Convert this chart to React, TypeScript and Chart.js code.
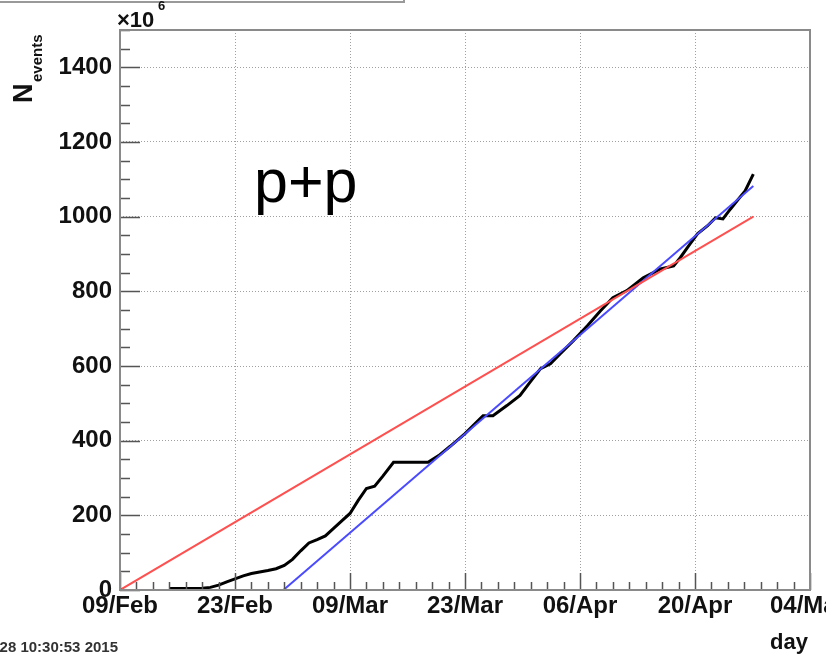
import React, { useEffect, useRef } from "react";
import { Chart, registerables } from "chart.js";

Chart.register(...registerables);

// x axis: days counted from 09/Feb, labelled every two weeks
const DAY_TICKS = [0, 14, 28, 42, 56, 70, 84];
const DAY_LABELS = ["09/Feb", "23/Feb", "09/Mar", "23/Mar", "06/Apr", "20/Apr", "04/May"];
const Y_TICKS = [0, 200, 400, 600, 800, 1000, 1200, 1400];

// accumulated events (in units of 10^6) against run day
const RUN_DAYS = [
  6, 8, 10, 11, 12, 13, 14, 15, 16, 17,
  18, 19, 20, 21, 22, 23, 24, 25, 26, 27,
  28, 29, 30, 31, 32, 33.3, 37.5, 38.8, 40.2, 42,
  44.2, 45.4, 47.1, 48.7, 49.9, 51.2, 52.4, 53.6, 55.2, 56.9,
  58.5, 60, 61.7, 63.7, 65.8, 67.4, 68.2, 69.4, 70.3, 71.5,
  72.5, 73.4, 74.3, 75.1, 76.1, 77.1,
];
const RUN_EVENTS = [
  4, 4, 5, 7, 13, 22, 30, 38, 44, 48,
  52, 57, 66, 82, 105, 126, 135, 145, 165, 185,
  205, 240, 272, 278, 305, 342, 342, 360, 385, 419,
  467, 467, 494, 521, 556, 593, 606, 633, 668, 708,
  748, 783, 802, 836, 860, 868, 890, 927, 954, 975,
  997, 994, 1020, 1042, 1069, 1114,
];

// projected goal (red) and current pace (blue)
const GOAL_DAYS = [0, 77.1];
const GOAL_EVENTS = [0, 1000];
const PACE_DAYS = [19.9, 77.1];
const PACE_EVENTS = [0, 1082];

const FONT = '"Liberation Sans", Arial, Helvetica, sans-serif';

const toPoints = (xs: number[], ys: number[]) => xs.map((x, i) => ({ x, y: ys[i] }));

const rootStyle = {
  id: "rootStyle",
  afterDatasetsDraw(chart: any) {
    const { ctx, chartArea: a, scales } = chart;
    const x = scales.x;
    const y = scales.y;
    ctx.save();
    ctx.strokeStyle = "#555";
    ctx.lineWidth = 1.5;
    ctx.beginPath();
    // y tick marks: major every 200, minor every 50
    for (let v = 0; v <= 1500; v += 50) {
      const py = Math.round(y.getPixelForValue(v)) + 0.5;
      const len = v % 200 === 0 ? 20 : 10;
      ctx.moveTo(a.left, py);
      ctx.lineTo(a.left + len, py);
    }
    // x tick marks: major every 14 days, minor every 2 days
    for (let d = 0; d <= 84; d += 2) {
      const px = Math.round(x.getPixelForValue(d)) + 0.5;
      const len = d % 14 === 0 ? 17 : 8;
      ctx.moveTo(px, a.bottom);
      ctx.lineTo(px, a.bottom - len);
    }
    ctx.stroke();
    // frame
    ctx.strokeStyle = "#8a8a8a";
    ctx.lineWidth = 2;
    ctx.strokeRect(a.left, a.top, a.right - a.left, a.bottom - a.top);
    ctx.restore();
  },
  afterDraw(chart: any) {
    const { ctx } = chart;
    ctx.save();
    ctx.fillStyle = "#111";

    // clipped title box at the top
    ctx.strokeStyle = "#999";
    ctx.lineWidth = 2;
    ctx.strokeRect(-10, -20, 414, 22);

    // axis multiplier
    ctx.textAlign = "left";
    ctx.textBaseline = "alphabetic";
    ctx.font = `bold 22px ${FONT}`;
    ctx.fillText("\u00d710", 117, 27);
    ctx.font = `bold 13px ${FONT}`;
    ctx.fillText("6", 158, 10);

    // y title N_events
    ctx.save();
    ctx.translate(32, 103);
    ctx.rotate(-Math.PI / 2);
    ctx.font = `bold 27px ${FONT}`;
    ctx.fillText("N", 0, 0);
    ctx.font = `bold 15px ${FONT}`;
    ctx.fillText("events", 21, 10);
    ctx.restore();

    // x title
    ctx.textAlign = "right";
    ctx.font = `bold 22px ${FONT}`;
    ctx.fillText("day", 808, 649);

    // time stamp
    ctx.fillStyle = "#333";
    ctx.font = `bold 15px ${FONT}`;
    ctx.fillText("28 10:30:53 2015", 118, 652);

    // collision system
    ctx.fillStyle = "#000";
    ctx.textAlign = "left";
    ctx.font = `61px ${FONT}`;
    ctx.fillText("p+p", 254, 202);
    ctx.restore();
  },
};

export default function App() {
  const ref = useRef<HTMLCanvasElement>(null);

  useEffect(() => {
    const canvas = ref.current!;
    const tickFont = { family: FONT, weight: "bold" as const, size: 24, lineHeight: 1 };
    const chart = new Chart(canvas, {
      type: "scatter",
      data: {
        datasets: [
          {
            data: toPoints(GOAL_DAYS, GOAL_EVENTS),
            showLine: true,
            borderColor: "#ff5050",
            borderWidth: 2,
            pointRadius: 0,
          },
          {
            data: toPoints(PACE_DAYS, PACE_EVENTS),
            showLine: true,
            borderColor: "#4a4aff",
            borderWidth: 2,
            pointRadius: 0,
          },
          {
            data: toPoints(RUN_DAYS, RUN_EVENTS),
            showLine: true,
            borderColor: "#000",
            borderWidth: 3,
            pointRadius: 0,
            tension: 0,
          },
        ],
      },
      options: {
        responsive: false,
        maintainAspectRatio: false,
        devicePixelRatio: 1,
        animation: false,
        events: [],
        layout: { padding: { left: 0, top: 30, right: 16, bottom: 0 } },
        plugins: { legend: { display: false }, tooltip: { enabled: false } },
        scales: {
          x: {
            type: "linear",
            min: 0,
            max: 84,
            afterBuildTicks: (s: any) => {
              s.ticks = DAY_TICKS.map((v) => ({ value: v }));
            },
            afterFit: (s: any) => {
              s.height = 69;
              s.paddingLeft = 0;
              s.paddingRight = 0;
            },
            ticks: {
              callback: (v: any) => {
                const i = DAY_TICKS.indexOf(Number(v));
                return i >= 0 ? DAY_LABELS[i] : "";
              },
              font: tickFont,
              color: "#111",
              padding: 4,
              maxRotation: 0,
              autoSkip: false,
            },
            grid: { color: "#a0a0a0", lineWidth: 1, drawTicks: false },
            border: { display: false, dash: [1, 2] },
          },
          y: {
            type: "linear",
            min: 0,
            max: 1500,
            afterBuildTicks: (s: any) => {
              s.ticks = Y_TICKS.map((v) => ({ value: v }));
            },
            afterFit: (s: any) => {
              s.width = 120;
              s.paddingTop = 0;
              s.paddingBottom = 0;
            },
            ticks: {
              callback: (v: any) => String(v),
              font: tickFont,
              color: "#111",
              padding: 8,
            },
            grid: { color: "#a0a0a0", lineWidth: 1, drawTicks: false },
            border: { display: false, dash: [1, 2] },
          },
        },
      },
      plugins: [rootStyle],
    });
    return () => chart.destroy();
  }, []);

  return (
    <div style={{ position: "fixed", left: 0, top: 0, width: 826, height: 659, background: "#fff" }}>
      <canvas ref={ref} width={826} height={659} style={{ display: "block", width: 826, height: 659 }} />
    </div>
  );
}
